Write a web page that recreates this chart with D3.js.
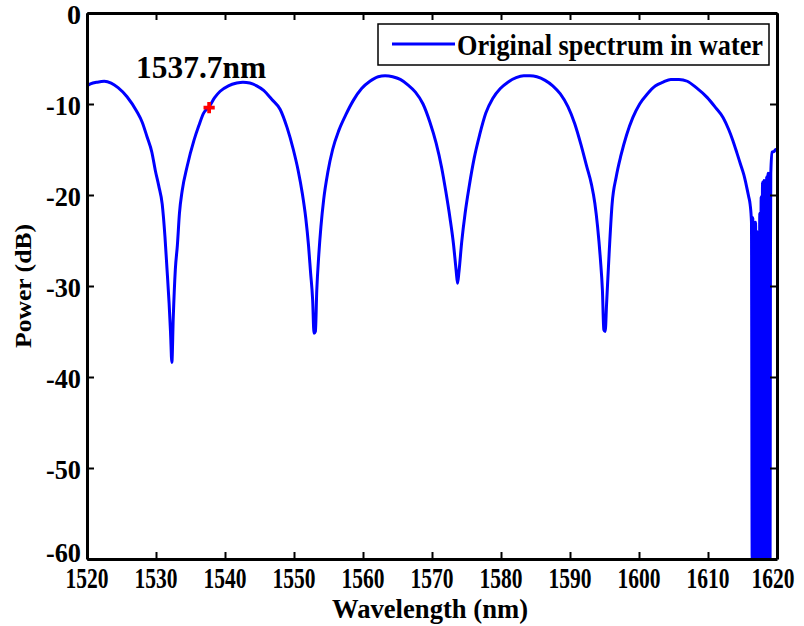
<!DOCTYPE html>
<html>
<head>
<meta charset="utf-8">
<script src="https://cdn.jsdelivr.net/npm/d3@7"></script>
<style>
  body { margin: 0; background: #fff; }
  text { font-family: "Liberation Serif", "Times New Roman", serif; font-weight: bold; }
</style>
</head>
<body>
<section id="grafico"></section>
<script>
// spectrum: [wavelength nm, power dB]
const spectrum = [
    [1520.0,-8.0],[1520.5,-7.8],[1521.5,-7.6],[1522.5,-7.5],[1523.5,-7.7],[1524.5,-8.2],
    [1525.8,-9.2],[1527.2,-10.8],[1528.0,-12.0],[1528.7,-13.6],[1529.4,-15.3],[1529.9,-17.3],
    [1530.4,-19.0],[1530.9,-21.0],[1531.3,-24.6],[1531.6,-28.2],[1531.9,-31.9],[1532.1,-35.0],
    [1532.3,-38.4],[1532.5,-33.5],[1532.8,-28.2],[1533.1,-25.5],[1533.4,-22.0],[1533.8,-19.5],
    [1534.5,-16.9],[1535.5,-14.0],[1536.2,-12.4],[1536.9,-11.0],[1537.7,-10.3],[1538.5,-9.3],
    [1539.3,-8.6],[1540.5,-8.0],[1541.7,-7.7],[1542.6,-7.6],[1543.6,-7.7],[1544.6,-8.0],
    [1545.6,-8.5],[1546.8,-9.5],[1548.0,-10.6],[1549.0,-12.6],[1549.9,-15.0],[1550.6,-17.3],
    [1551.2,-19.8],[1551.7,-22.5],[1552.1,-25.5],[1552.4,-28.5],[1552.7,-31.5],[1552.9,-35.2],
    [1553.1,-35.0],[1553.3,-30.5],[1553.6,-26.5],[1553.9,-23.5],[1554.3,-20.5],[1554.9,-17.5],
    [1555.6,-15.0],[1556.5,-12.9],[1557.5,-11.2],[1558.6,-9.6],[1559.8,-8.3],[1561.0,-7.5],
    [1562.2,-7.0],[1563.2,-6.9],[1564.3,-7.0],[1565.4,-7.3],[1566.5,-7.9],[1567.6,-8.7],
    [1568.7,-10.0],[1569.7,-12.0],[1570.6,-14.3],[1571.4,-17.0],[1572.0,-19.6],[1572.6,-22.5],
    [1573.1,-25.3],[1573.5,-28.3],[1573.7,-29.7],[1573.9,-28.5],[1574.3,-25.2],[1574.8,-22.0],
    [1575.4,-19.0],[1576.1,-16.0],[1576.9,-13.4],[1577.8,-11.0],[1578.8,-9.4],[1579.9,-8.3],
    [1581.0,-7.6],[1582.2,-7.1],[1583.3,-6.9],[1584.2,-6.9],[1585.2,-7.0],[1586.4,-7.4],
    [1587.5,-8.0],[1588.6,-8.9],[1589.7,-10.3],[1590.7,-12.2],[1591.6,-14.5],[1592.4,-16.8],
    [1593.1,-18.8],[1593.6,-20.9],[1594.0,-23.5],[1594.4,-27.0],[1594.7,-30.5],[1594.9,-34.8],
    [1595.1,-35.0],[1595.3,-32.0],[1595.7,-26.0],[1596.1,-21.0],[1596.7,-18.0],[1597.4,-15.6],
    [1598.2,-13.4],[1599.1,-11.5],[1600.1,-10.0],[1601.2,-8.9],[1602.4,-8.0],[1603.5,-7.6],
    [1604.6,-7.3],[1605.8,-7.3],[1607.0,-7.5],[1608.3,-8.2],[1609.9,-9.3],[1611.1,-10.4],
    [1612.2,-11.5],[1613.0,-12.8],[1613.6,-14.0],[1614.2,-15.4],[1614.7,-16.6],[1615.2,-17.8],
    [1615.6,-19.1],[1615.9,-20.2],[1616.1,-21.0],[1616.3,-23.0],
    // noisy tail at the long-wavelength end
    [1616.4,-60],[1616.5,-22.5],[1616.6,-60],[1616.7,-23.0],[1616.8,-60],[1616.9,-23.0],
    [1617.0,-60],[1617.1,-24.0],[1617.2,-60],[1617.3,-25.3],[1617.4,-60],[1617.5,-22.0],
    [1617.6,-60],[1617.7,-20.2],[1617.8,-60],[1617.9,-18.6],[1618.0,-60],[1618.1,-18.4],
    [1618.2,-60],[1618.3,-18.4],[1618.4,-60],[1618.5,-18.0],[1618.6,-60],[1618.7,-17.6],
    [1618.8,-60],[1618.9,-17.6],[1619.0,-60],[1619.05,-27.5],[1619.1,-17.6],[1619.3,-15.3],
    [1619.6,-15.2],[1619.8,-15.0],[1620.0,-15.0]
];

const marker = [[1537.7, -10.4]];
const markerLabel = "1537.7nm";
const seriesName = "Original spectrum in water";

const xTicks = [1520,1530,1540,1550,1560,1570,1580,1590,1600,1610,1620];
const yTicks = [0,-10,-20,-30,-40,-50,-60];

const width = 804;
const height = 626;
const marginL = 87, marginR = 27, marginT = 13, marginB = 67;

const svg = d3.select("section#grafico")
    .append("svg")
    .attr("width", width)
    .attr("height", height);

const xScale = d3.scaleLinear()
    .domain([1520, 1620])
    .range([marginL, width - marginR]);

const yScale = d3.scaleLinear()
    .domain([-60, 0])
    .range([height - marginB, marginT]);

svg.append("clipPath").attr("id", "clip")
    .append("rect")
    .attr("x", marginL).attr("y", marginT)
    .attr("width", width - marginL - marginR)
    .attr("height", height - marginT - marginB);

// curve
const line = d3.line()
    .x(d => xScale(d[0]))
    .y(d => yScale(d[1]))
    .curve(d3.curveMonotoneX);

svg.append("path")
    .datum(spectrum)
    .attr("clip-path", "url(#clip)")
    .attr("fill", "none")
    .attr("stroke", "#0000ff")
    .attr("stroke-width", 3)
    .attr("stroke-linejoin", "round")
    .attr("d", line);

// red marker
svg.selectAll(".mk")
    .data(marker)
    .enter()
    .append("path")
    .attr("class", "mk")
    .attr("transform", d => `translate(${xScale(d[0])},${yScale(d[1])})`)
    .attr("d", d3.symbol(d3.symbolCross).size(70))
    .attr("fill", "#ff0000");

svg.append("text")
    .attr("x", xScale(marker[0][0]) - 8)
    .attr("y", 78)
    .attr("text-anchor", "middle")
    .attr("font-size", 31)
    .attr("textLength", 130)
    .attr("lengthAdjust", "spacingAndGlyphs")
    .text(markerLabel);

// axes: ticks inward on all four sides
const tickLen = 7;
const axB = svg.append("g").attr("transform", `translate(0,${height - marginB})`)
    .call(d3.axisBottom(xScale).tickValues(xTicks).tickSizeInner(-tickLen).tickSizeOuter(0).tickFormat(""));
const axT = svg.append("g").attr("transform", `translate(0,${marginT})`)
    .call(d3.axisTop(xScale).tickValues(xTicks).tickSizeInner(-tickLen).tickSizeOuter(0).tickFormat(""));
const axL = svg.append("g").attr("transform", `translate(${marginL},0)`)
    .call(d3.axisLeft(yScale).tickValues(yTicks).tickSizeInner(-tickLen).tickSizeOuter(0).tickFormat(""));
const axR = svg.append("g").attr("transform", `translate(${width - marginR},0)`)
    .call(d3.axisRight(yScale).tickValues(yTicks).tickSizeInner(-tickLen).tickSizeOuter(0).tickFormat(""));

[axB, axT, axL, axR].forEach(a => {
    a.select(".domain").attr("stroke", "#000").attr("stroke-width", 3);
    a.selectAll(".tick line").attr("stroke", "#000").attr("stroke-width", 2);
});

// tick labels
svg.selectAll(".xlab")
    .data(xTicks)
    .enter()
    .append("text")
    .attr("class", "xlab")
    .attr("x", d => d === 1620 ? xScale(d) - 4 : xScale(d))
    .attr("y", height - marginB + 29)
    .attr("text-anchor", "middle")
    .attr("font-size", 29)
    .attr("textLength", 43)
    .attr("lengthAdjust", "spacingAndGlyphs")
    .text(d => d);

svg.selectAll(".ylab")
    .data(yTicks)
    .enter()
    .append("text")
    .attr("class", "ylab")
    .attr("x", marginL - 6)
    .attr("y", d => d === -60 ? yScale(d) + 3 : yScale(d) + 11)
    .attr("text-anchor", "end")
    .attr("font-size", 28)
    .attr("textLength", d => d === 0 ? 14 : 35)
    .attr("lengthAdjust", "spacingAndGlyphs")
    .text(d => d);

// axis titles
svg.append("text")
    .attr("x", (marginL + width - marginR) / 2 - 2)
    .attr("y", 618)
    .attr("text-anchor", "middle")
    .attr("font-size", 27)
    .attr("textLength", 196)
    .attr("lengthAdjust", "spacingAndGlyphs")
    .text("Wavelength (nm)");

svg.append("text")
    .attr("transform", `translate(31,${(marginT + height - marginB) / 2}) rotate(-90)`)
    .attr("text-anchor", "middle")
    .attr("font-size", 23)
    .attr("textLength", 124)
    .attr("lengthAdjust", "spacingAndGlyphs")
    .text("Power (dB)");

// legend
const lg = svg.append("g");
lg.append("rect")
    .attr("x", 378).attr("y", 24)
    .attr("width", 391).attr("height", 41)
    .attr("fill", "#fff")
    .attr("stroke", "#000")
    .attr("stroke-width", 1.5);
lg.append("line")
    .attr("x1", 392).attr("x2", 455)
    .attr("y1", 44).attr("y2", 44)
    .attr("stroke", "#0000ff")
    .attr("stroke-width", 3);
lg.append("text")
    .attr("x", 457).attr("y", 55)
    .attr("font-size", 29)
    .attr("textLength", 306)
    .attr("lengthAdjust", "spacingAndGlyphs")
    .text(seriesName);
</script>
</body>
</html>
